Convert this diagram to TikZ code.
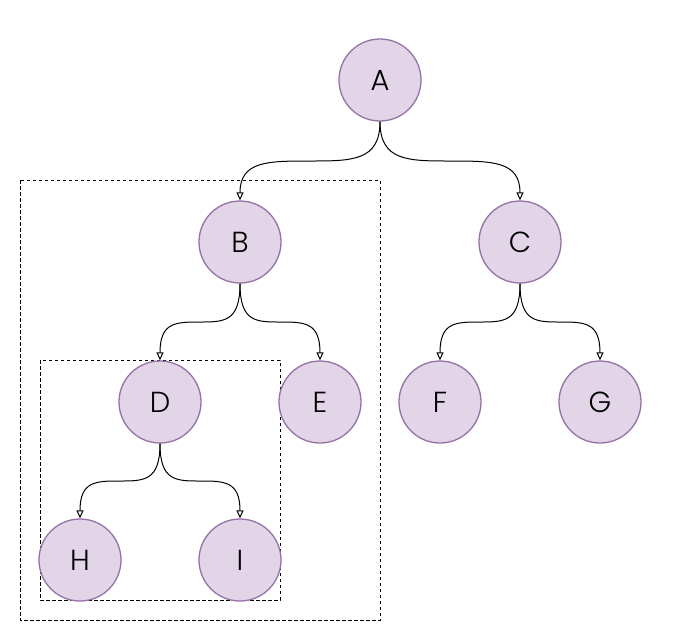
\documentclass[tikz,border=0pt]{standalone}
\usepackage{fontspec}
\setmainfont{Poppins}[UprightFont=* Light]
\usetikzlibrary{arrows.meta,calc}
\definecolor{nfill}{HTML}{E1D5E7}
\definecolor{nline}{HTML}{9673A6}
\tikzset{
  tnode/.style={circle,draw=nline,fill=nfill,line width=1.3pt,minimum size=82pt,inner sep=0pt,font=\fontsize{29}{29}\selectfont},
  conn/.style={draw=black,line width=1pt,-{Triangle[open,length=8pt,width=7pt]}},
  box/.style={draw=black,line width=1pt,dash pattern=on 3.5pt off 2.5pt}
}
\newcommand\treeconn[2]{%
  \draw[conn] let \p1=(#1.south), \p2=(#2.north), \n1={(\y1+\y2)/2}, \n2={\x2-\x1} in
   (\p1) .. controls (\x1,\n1) and ({\x1+0.2*\n2},\n1) .. ({\x1+0.5*\n2},\n1)
   .. controls ({\x1+0.8*\n2},\n1) and (\x2,\n1) .. (\p2);}
\begin{document}
\begin{tikzpicture}[x=1pt,y=-1pt]
\useasboundingbox (0,0) rectangle (681,641);
\draw[box] (20,180) rectangle (380,620);
\draw[box] (40,360) rectangle (280,600);
\node[tnode] (A) at (380,80) {A};
\node[tnode] (B) at (240,242) {B};
\node[tnode] (C) at (520,242) {C};
\node[tnode] (D) at (160,402) {D};
\node[tnode] (E) at (320,402) {E};
\node[tnode] (F) at (440,402) {F};
\node[tnode] (G) at (600,402) {G};
\node[tnode] (H) at (80,560) {H};
\node[tnode] (I) at (240,560) {I};
\treeconn{A}{B}
\treeconn{A}{C}
\treeconn{B}{D}
\treeconn{B}{E}
\treeconn{C}{F}
\treeconn{C}{G}
\treeconn{D}{H}
\treeconn{D}{I}
\end{tikzpicture}
\end{document}
